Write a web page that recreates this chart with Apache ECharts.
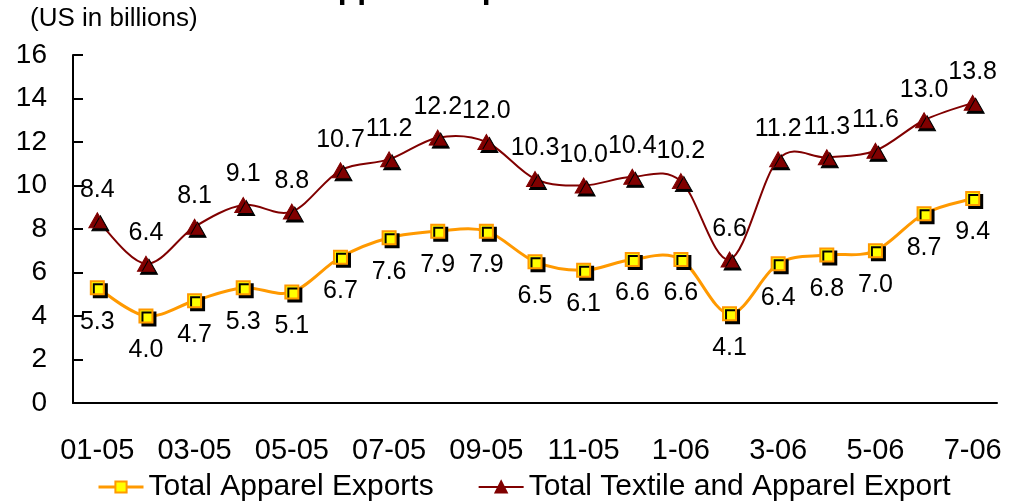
<!DOCTYPE html>
<html>
<head>
<meta charset="utf-8">
<script src="https://cdn.jsdelivr.net/npm/echarts@6/dist/echarts.min.js"></script>
<style>
  html, body { margin: 0; padding: 0; background: #fff; }
  #chart { width: 1015px; height: 501px; }
</style>
</head>
<body>
<div id="chart"></div>
<script>
// Monthly export values, US$ billions
const months = ['01-05', '02-05', '03-05', '04-05', '05-05', '06-05', '07-05', '08-05', '09-05', '10-05', '11-05', '12-05',
                '1-06', '2-06', '3-06', '4-06', '5-06', '6-06', '7-06'];
const apparelExports = [5.3, 4.0, 4.7, 5.3, 5.1, 6.7, 7.6, 7.9, 7.9, 6.5, 6.1, 6.6, 6.6, 4.1, 6.4, 6.8, 7.0, 8.7, 9.4];
const textileApparelExports = [8.4, 6.4, 8.1, 9.1, 8.8, 10.7, 11.2, 12.2, 12.0, 10.3, 10.0, 10.4, 10.2, 6.6, 11.2, 11.3, 11.6, 13.0, 13.8];
const seriesNames = ['Total Apparel Exports', 'Total Textile and Apparel Export'];
const unitLabel = '(US in billions)';
const titleText = 'Textile and Apparel Exports';

const FONT = '"Liberation Sans", Arial, sans-serif';
const APPAREL_LINE = '#FF9900';
const TEXTILE_LINE = '#800000';
const chart = echarts.init(document.getElementById('chart'));

const markerShadow = { shadowColor: '#000', shadowBlur: 0, shadowOffsetX: 3, shadowOffsetY: 3 };

// Smoothed line drawn as cubic Bezier segments (Catmull-Rom style tangents),
// each segment placed through the axis scales with api.coord.
function smoothSegment(values, color, width) {
  return function (params, api) {
    const i = params.dataIndex;
    const n = values.length;
    if (i >= n - 1) return null;
    const pt = j => api.coord([Math.max(0, Math.min(n - 1, j)), values[Math.max(0, Math.min(n - 1, j))]]);
    const p0 = pt(i - 1), p1 = pt(i), p2 = pt(i + 1), p3 = pt(i + 2);
    const c1 = [p1[0] + (p2[0] - p0[0]) / 6, p1[1] + (p2[1] - p0[1]) / 6];
    const c2 = [p2[0] - (p3[0] - p1[0]) / 6, p2[1] - (p3[1] - p1[1]) / 6];
    return {
      type: 'path',
      shape: {
        pathData: 'M' + p1[0] + ' ' + p1[1] +
                  ' C' + c1[0] + ' ' + c1[1] + ' ' + c2[0] + ' ' + c2[1] + ' ' + p2[0] + ' ' + p2[1]
      },
      style: { stroke: color, lineWidth: width, fill: null, lineCap: 'round' },
      silent: true
    };
  };
}

const valueLabel = {
  show: true, fontSize: 25, fontFamily: FONT, color: '#000',
  formatter: p => p.value.toFixed(1)
};

chart.setOption({
  animation: false,
  backgroundColor: '#fff',
  graphic: [
    {
      type: 'text', left: 141, top: -27, silent: true,
      style: { text: titleText, font: 'bold 32px ' + FONT, fill: '#000' }
    },
    {
      type: 'text', left: 30, top: 6, silent: true,
      style: { text: unitLabel, font: '26px ' + FONT, fill: '#000' }
    }
  ],
  legend: {
    bottom: -6,
    left: 92,
    itemGap: 44,
    itemWidth: 45,
    itemHeight: 14,
    textStyle: { fontSize: 30, fontFamily: FONT, color: '#000' },
    data: [
      { name: seriesNames[0], lineStyle: { color: APPAREL_LINE, width: 3, opacity: 1 } },
      { name: seriesNames[1], lineStyle: { color: TEXTILE_LINE, width: 2, opacity: 1 } }
    ]
  },
  grid: { left: 73, right: 18, top: 55, bottom: 98 },
  xAxis: {
    type: 'category',
    data: months,
    boundaryGap: true,
    axisLine: { lineStyle: { color: '#000', width: 2 } },
    axisTick: { inside: true, length: 9, interval: 0, lineStyle: { color: '#000', width: 2 } },
    axisLabel: { interval: 1, margin: 33, fontSize: 29, fontFamily: FONT, color: '#000' },
    splitLine: { show: false }
  },
  yAxis: {
    type: 'value',
    min: 0, max: 16, interval: 2,
    axisLine: { show: true, lineStyle: { color: '#000', width: 2 } },
    axisTick: { show: true, inside: true, length: 10, lineStyle: { color: '#000', width: 2 } },
    axisLabel: { margin: 26, fontSize: 28, fontFamily: FONT, color: '#000' },
    splitLine: { show: false }
  },
  series: [
    {
      type: 'custom',
      renderItem: smoothSegment(apparelExports, APPAREL_LINE, 3),
      data: apparelExports.map((v, i) => [i, v]),
      encode: { x: 0, y: 1 },
      z: 2
    },
    {
      type: 'custom',
      renderItem: smoothSegment(textileApparelExports, TEXTILE_LINE, 2),
      data: textileApparelExports.map((v, i) => [i, v]),
      encode: { x: 0, y: 1 },
      z: 2
    },
    {
      name: seriesNames[0],
      type: 'line',
      data: apparelExports,
      symbol: 'rect',
      symbolSize: 13,
      lineStyle: { color: APPAREL_LINE, width: 3, opacity: 0 },
      itemStyle: Object.assign({ color: '#FFFF00', borderColor: APPAREL_LINE, borderWidth: 2 }, markerShadow),
      label: Object.assign({ position: 'bottom', distance: 14 }, valueLabel),
      z: 3
    },
    {
      name: seriesNames[1],
      type: 'line',
      data: textileApparelExports,
      symbol: 'triangle',
      symbolSize: [17, 15],
      lineStyle: { color: TEXTILE_LINE, width: 2, opacity: 0 },
      itemStyle: Object.assign({ color: TEXTILE_LINE, borderColor: TEXTILE_LINE, borderWidth: 1 }, markerShadow),
      label: Object.assign({ position: 'top', distance: 10 }, valueLabel),
      z: 4
    }
  ]
});
</script>
</body>
</html>
